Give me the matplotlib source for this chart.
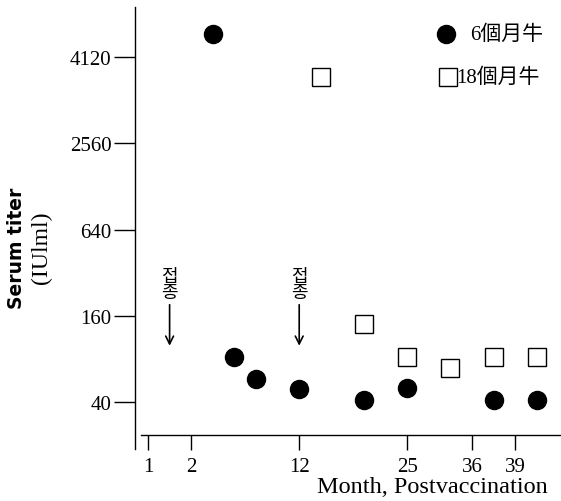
import matplotlib
matplotlib.use("Agg")
import matplotlib.pyplot as plt

# x positions are sampling slots along the (non-linear) month axis
x_tick_pos = [0, 2, 7, 12, 15, 17]
x_tick_labels = ["1", "2", "12", "25", "36", "39"]

# y positions are titer steps; tick labels as printed
y_tick_pos = [0, 1, 2, 3, 4]
y_tick_labels = ["40", "160", "640", "2560", "4120"]

calf6_x = [3, 4, 5, 7, 10, 12, 16, 18]
calf6_y = [4.27, 0.52, 0.27, 0.15, 0.02, 0.16, 0.02, 0.02]

calf18_x = [8, 10, 12, 14, 16, 18]
calf18_y = [3.77, 0.90, 0.52, 0.39, 0.52, 0.52]

vacc_x = [1, 7]

SERIF = ["Liberation Serif", "Noto Sans CJK KR"]
KR = ["Noto Sans CJK KR", "DejaVu Sans"]

fig = plt.figure(figsize=(5.61, 5.02), dpi=100)
ax = fig.add_axes([135 / 561, 52 / 502, 426 / 561, 442 / 502])

ax.set_xlim(-0.602, 19.12)
ax.set_ylim(-0.545, 4.58)

ax.plot(calf6_x, calf6_y, "o", color="black", markersize=13, clip_on=False)
ax.plot(calf18_x, calf18_y, "s", markerfacecolor="white", markeredgecolor="black",
        markersize=12.5, markeredgewidth=1.0, clip_on=False)

# spines
for s in ["top", "right"]:
    ax.spines[s].set_visible(False)
ax.spines["left"].set_linewidth(1.0)
ax.spines["bottom"].set_position(("data", -0.383))
ax.spines["bottom"].set_bounds(-0.32, 19.12)
ax.spines["bottom"].set_linewidth(1.0)

ax.set_xticks(x_tick_pos)
ax.set_xticklabels(x_tick_labels, family=SERIF, fontsize=15)
ax.set_yticks(y_tick_pos)
ax.set_yticklabels(y_tick_labels, family=SERIF, fontsize=15)
ax.tick_params(axis="x", direction="out", length=11, width=1.0, pad=5)
ax.tick_params(axis="y", direction="out", length=15, width=1.0, pad=2)

# vaccination arrows
for vx in vacc_x:
    ax.text(vx, 1.37, "접\n종", family=KR, fontsize=13, ha="center", va="center",
            linespacing=0.9)
    ax.annotate("", xy=(vx, 0.62), xytext=(vx, 1.16),
                arrowprops=dict(arrowstyle="->", color="black", lw=1.2,
                                mutation_scale=14))

# legend drawn by hand
ax.plot([0.730], [0.939], "o", color="black", markersize=13, transform=ax.transAxes,
        clip_on=False)
ax.text(0.786, 0.939, "6個月牛", family=SERIF, fontsize=15, va="center",
        transform=ax.transAxes)
ax.plot([0.735], [0.842], "s", markerfacecolor="white", markeredgecolor="black",
        markersize=12.5, transform=ax.transAxes, clip_on=False)
ax.text(0.754, 0.842, "18個月牛", family=SERIF, fontsize=15, va="center",
        transform=ax.transAxes)

fig.text(17 / 561, 1 - 248 / 502, "Serum titer", family="DejaVu Sans", fontsize=13.5,
         fontweight="semibold", rotation=90, ha="center", va="center")
fig.text(41 / 561, 1 - 248 / 502, "(IUlml)", family=SERIF, fontsize=17,
         rotation=90, ha="center", va="center")
fig.text(548 / 561, 1 - 488 / 502, "Month, Postvaccination", family=SERIF, fontsize=17.5,
         ha="right", va="center")

fig.savefig("out.png", dpi=100)
